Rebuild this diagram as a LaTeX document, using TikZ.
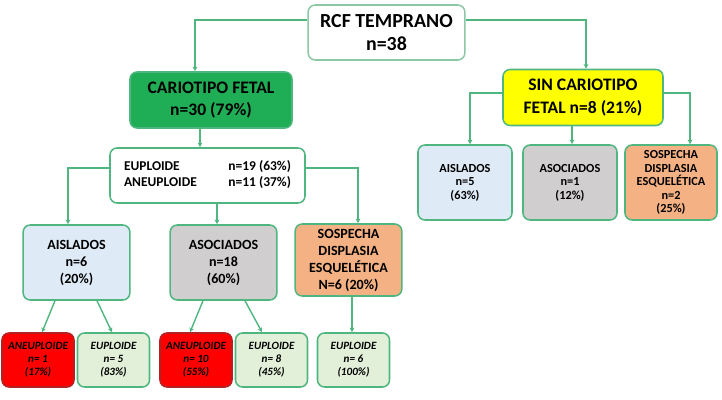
\documentclass[tikz,border=0pt]{standalone}
\usepackage{fontspec}
\setmainfont{Carlito}
\usepackage{tikz}
\usetikzlibrary{arrows.meta,calc}
\definecolor{linegreen}{HTML}{4FB680}
\definecolor{rootline}{HTML}{8CC7A6}
\definecolor{fetalgreen}{HTML}{1FAE55}
\definecolor{sinyellow}{HTML}{FFFF00}
\definecolor{bluebox}{HTML}{DEEBF7}
\definecolor{graybox}{HTML}{D0CECE}
\definecolor{orangebox}{HTML}{F4B183}
\definecolor{leafbox}{HTML}{E2F0D9}
\definecolor{redbox}{HTML}{FF0000}
\definecolor{redline}{HTML}{B22222}

\begin{document}
\begin{tikzpicture}[
  x=0.03cm,y=-0.03cm,
  box/.style={draw=linegreen,line width=1.3pt,rounded corners=6pt,align=center,inner sep=1pt},
  topbox/.style={box,minimum width=4.7cm,minimum height=1.65cm,font=\bfseries\fontsize{17}{19}\selectfont},
  midbox/.style={box,minimum height=1.68cm,font=\bfseries\fontsize{15}{19}\selectfont},
  lvlbox/.style={box,minimum width=3.2cm,minimum height=2.25cm,font=\bfseries\fontsize{12}{14.5}\selectfont},
  sidebox/.style={box,minimum height=2.25cm,font=\bfseries\fontsize{10.5}{11.5}\selectfont},
  leaf/.style={box,fill=leafbox,minimum width=2.16cm,minimum height=1.62cm,font=\bfseries\itshape\fontsize{9.5}{11}\selectfont},
  badleaf/.style={leaf,fill=redbox,draw=redline},
  arr/.style={-{Stealth[length=4pt,width=4pt]},draw=linegreen,line width=1.2pt}
]
\useasboundingbox (0,0) rectangle (722,400);
\node[topbox,draw=rootline] (rcf) at (386.5,32.5) {RCF TEMPRANO\\n=38};
\node[midbox,fill=fetalgreen,minimum width=4.86cm] (cario) at (211,100) {CARIOTIPO FETAL\\n=30 (79\%)};
\node[midbox,fill=sinyellow,minimum width=4.8cm] (sincario) at (583,97.5) {SIN CARIOTIPO\\FETAL n=8 (21\%)};
\node[box,minimum width=5.85cm,minimum height=1.65cm,font=\bfseries\fontsize{11.5}{13}\selectfont] (ploidia) at (207.5,175.5)
  {\begin{tabular}{@{}l@{\hspace{27pt}}l@{}}EUPLOIDE & n=19 (63\%)\\ANEUPLOIDE & n=11 (37\%)\end{tabular}};
% con cariotipo
\node[lvlbox,fill=bluebox] (aislados) at (76.5,262.5) {AISLADOS\\n=6\\(20\%)};
\node[lvlbox,fill=graybox] (asociados) at (223.5,262.5) {ASOCIADOS\\n=18\\(60\%)};
\node[lvlbox,fill=orangebox,minimum height=2.16cm] (displasia) at (348.5,260) {SOSPECHA\\DISPLASIA\\ESQUELÉTICA\\N=6 (20\%)};
% sin cariotipo
\node[sidebox,fill=bluebox,minimum width=2.82cm] (raislados) at (465,182.5) {AISLADOS\\n=5\\(63\%)};
\node[sidebox,fill=graybox,minimum width=2.82cm] (rasociados) at (570,182.5) {ASOCIADOS\\n=1\\(12\%)};
\node[sidebox,fill=orangebox,minimum width=2.76cm] (rdisplasia) at (671,182.5) {SOSPECHA\\DISPLASIA\\ESQUELÉTICA\\n=2\\(25\%)};
% hojas
\node[badleaf] (aneu1) at (38,360) {ANEUPLOIDE\\n= 1\\(17\%)};
\node[leaf] (eu1) at (113.5,360) {EUPLOIDE\\n= 5\\(83\%)};
\node[badleaf] (aneu2) at (196,360) {ANEUPLOIDE\\n= 10\\(55\%)};
\node[leaf] (eu2) at (271.5,360) {EUPLOIDE\\n= 8\\(45\%)};
\node[leaf] (eu3) at (353.5,360) {EUPLOIDE\\n= 6\\(100\%)};

\draw[arr] (rcf.west |- 0,20) -| (cario.north -| 195,0);
\draw[arr] (rcf.east |- 0,20) -| (sincario.north -| 586,0);
\draw[arr] (cario.south -| 200,0) -- (ploidia.north -| 200,0);
\draw[arr] (ploidia.west |- 0,168) -| (aislados.north -| 68,0);
\draw[arr] (ploidia.east |- 0,168) -| (displasia.north -| 358,0);
\draw[arr] (ploidia.south -| 217,0) -- (asociados.north -| 217,0);
\draw[arr] (sincario.west |- 0,93) -| (raislados.north -| 470,0);
\draw[arr] (sincario.south -| 572,0) -- (rasociados.north -| 572,0);
\draw[arr] (sincario.east |- 0,93) -| (rdisplasia.north -| 690,0);
\draw[arr] (aislados.south -| 55,0) -- (aneu1.north -| 42,0);
\draw[arr] (aislados.south -| 97,0) -- (eu1.north -| 112,0);
\draw[arr] (asociados.south -| 203,0) -- (aneu2.north -| 190,0);
\draw[arr] (asociados.south -| 245,0) -- (eu2.north -| 262,0);
\draw[arr] (displasia.south -| 352,0) -- (eu3.north -| 352,0);
\end{tikzpicture}
\end{document}
